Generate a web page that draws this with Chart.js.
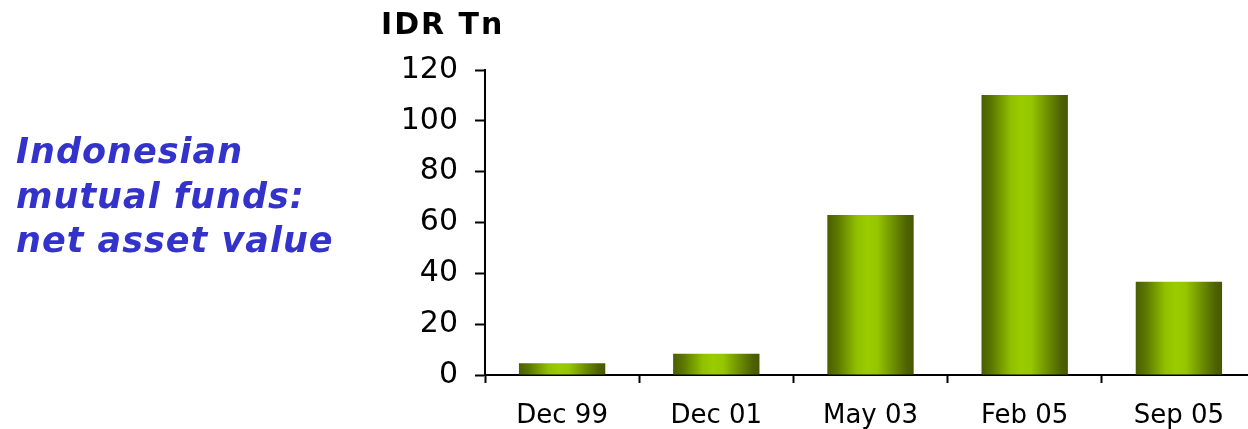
<!DOCTYPE html>
<html>
<head>
<meta charset="utf-8">
<script src="https://cdn.jsdelivr.net/npm/chart.js@4.4.1/dist/chart.umd.min.js"></script>
<style>
  html, body { margin: 0; padding: 0; background: #ffffff; overflow: hidden; }
  #wrap { position: absolute; left: 0; top: 0; width: 1256px; height: 429px; }
</style>
</head>
<body>
<div id="wrap"><canvas id="nav" width="1256" height="429"></canvas></div>
<script>
// Net asset value of Indonesian mutual funds, IDR trillion
const categories = ['Dec 99', 'Dec 01', 'May 03', 'Feb 05', 'Sep 05'];
const navValues = [4.6, 8.4, 63, 110.2, 36.7];
const yMin = 0;
const yMax = 120;
const yStep = 20;
const unitLabel = 'IDR Tn';
const headingLines = ['Indonesian', 'mutual funds:', 'net asset value'];

const BAR_SHARE = 0.56;

// Cylinder-like horizontal shading for each bar
function barShade(ctx) {
  const chart = ctx.chart;
  const area = chart.chartArea;
  if (!area || ctx.type !== 'data') return '#88b400';
  const xs = chart.scales.x;
  const cx = xs.getPixelForValue(ctx.dataIndex);
  const half = (area.right - area.left) / categories.length * BAR_SHARE / 2;
  const g = chart.ctx.createLinearGradient(cx - half, 0, cx + half, 0);
  g.addColorStop(0, '#4a5e00');
  g.addColorStop(0.12, '#5c7800');
  g.addColorStop(0.34, '#91c000');
  g.addColorStop(0.46, '#9acc00');
  g.addColorStop(0.58, '#95c600');
  g.addColorStop(0.78, '#6a8a00');
  g.addColorStop(0.92, '#4e6300');
  g.addColorStop(1, '#465800');
  return g;
}

// Side heading and unit caption
const captions = {
  id: 'captions',
  afterDraw(chart) {
    const c = chart.ctx;
    c.save();
    c.textAlign = 'left';
    c.textBaseline = 'alphabetic';
    c.fillStyle = '#000000';
    c.font = 'bold 30px "DejaVu Sans"';
    c.letterSpacing = '2px';
    c.fillText(unitLabel, 381, 34);
    c.fillStyle = '#3333cc';
    c.font = 'italic bold 35px "DejaVu Sans"';
    c.letterSpacing = '1px';
    c.fillText(headingLines[0], 16, 163);
    c.fillText(headingLines[1], 16, 207.5);
    c.fillText(headingLines[2], 16, 252);
    c.restore();
  }
};

new Chart(document.getElementById('nav'), {
  type: 'bar',
  data: {
    labels: categories,
    datasets: [{
      data: navValues,
      backgroundColor: barShade,
      borderWidth: 0,
      barPercentage: BAR_SHARE,
      categoryPercentage: 1
    }]
  },
  options: {
    responsive: false,
    animation: false,
    devicePixelRatio: 1,
    layout: { padding: { top: 70, left: 0, right: 0, bottom: 0 } },
    plugins: { legend: { display: false }, tooltip: { enabled: false }, title: { display: false } },
    scales: {
      x: {
        offset: true,
        grid: { offset: true, drawOnChartArea: false, drawTicks: true, tickLength: 8, tickWidth: 2, tickColor: '#000000' },
        border: { display: true, color: '#000000', width: 2 },
        ticks: { color: '#000000', padding: 18, maxRotation: 0, font: { family: '"DejaVu Sans"', size: 26 } },
        afterFit(scale) { scale.height = 54; }
      },
      y: {
        min: yMin,
        max: yMax,
        grid: { drawOnChartArea: false, drawTicks: true, tickLength: 10, tickWidth: 2, tickColor: '#000000' },
        border: { display: true, color: '#000000', width: 2 },
        ticks: { stepSize: yStep, color: '#000000', padding: 17, font: { family: '"DejaVu Sans"', size: 30 } },
        afterFit(scale) { scale.width = 485; }
      }
    }
  },
  plugins: [captions]
});
</script>
</body>
</html>
